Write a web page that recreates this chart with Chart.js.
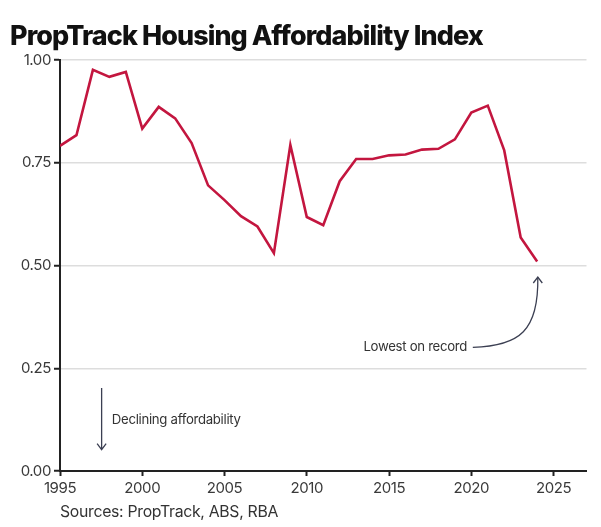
<!DOCTYPE html>
<html>
<head>
<meta charset="utf-8">
<script src="https://cdn.jsdelivr.net/npm/chart.js@4.4.1/dist/chart.umd.min.js"></script>
<style>
  html, body { margin: 0; padding: 0; background: #ffffff; }
  #wrap { width: 601px; height: 527px; position: relative; }
</style>
</head>
<body>
<div id="wrap"><canvas id="c"></canvas></div>
<script>
// ---- data ----
const chartTitle = 'PropTrack Housing Affordability Index';
const sourceNote = 'Sources: PropTrack, ABS, RBA';
const years = [1995, 1996, 1997, 1998, 1999, 2000, 2001, 2002, 2003, 2004,
               2005, 2006, 2007, 2008, 2009, 2010, 2011, 2012, 2013, 2014,
               2015, 2016, 2017, 2018, 2019, 2020, 2021, 2022, 2023, 2024];
const affordability = [0.791, 0.817, 0.976, 0.959, 0.971, 0.833, 0.886, 0.858, 0.798, 0.695,
                       0.659, 0.620, 0.595, 0.530, 0.793, 0.618, 0.598, 0.705, 0.759, 0.759,
                       0.768, 0.770, 0.782, 0.784, 0.807, 0.872, 0.889, 0.780, 0.568, 0.510];
const xTickYears = [1995, 2000, 2005, 2010, 2015, 2020, 2025];
const yTickValues = [0, 0.25, 0.5, 0.75, 1.0];
const lowestLabel = 'Lowest on record';
const decliningLabel = 'Declining affordability';

// annotation anchors in data units (year, index value)
const lowestText = { x: 2019.74, y: 0.302 };
const lowestCurve = [ { x: 2020.09, y: 0.301 }, { x: 2022.95, y: 0.304 }, { x: 2024.1, y: 0.342 }, { x: 2024.04, y: 0.472 } ];
const declineArrow = [ { x: 1997.53, y: 0.202 }, { x: 1997.53, y: 0.052 } ];
const declineText = { x: 1998.15, y: 0.124 };

const FONT = 'Inter, "Noto Sans", sans-serif';
const RED = '#c3163f';
const INK = '#3b3f52';

const decorPlugin = {
  id: 'decor',
  beforeDraw(chart) {
    chart.ctx.letterSpacing = '-0.4px';
  },
  afterDraw(chart) {
    const ctx = chart.ctx;
    const xs = chart.scales.x, ys = chart.scales.y;
    const px = p => [xs.getPixelForValue(p.x), ys.getPixelForValue(p.y)];
    ctx.save();
    // title
    ctx.letterSpacing = '-0.9px';
    ctx.fillStyle = '#111111';
    ctx.textBaseline = 'alphabetic';
    ctx.textAlign = 'left';
    ctx.font = '800 27px ' + FONT;
    let w = ctx.measureText(chartTitle).width;
    let size = 27 * 473 / w;
    ctx.font = '800 ' + size.toFixed(2) + 'px ' + FONT;
    ctx.fillText(chartTitle, 10, 45);
    // sources
    ctx.letterSpacing = '-0.3px';
    ctx.fillStyle = '#333333';
    ctx.font = '400 15.8px ' + FONT;
    ctx.textBaseline = 'middle';
    ctx.fillText(sourceNote, 60, 512);
    // lowest on record
    ctx.letterSpacing = '-0.3px';
    ctx.font = '400 13.2px ' + FONT;
    ctx.fillStyle = '#333333';
    ctx.textAlign = 'right';
    let [tx, ty] = px(lowestText);
    ctx.fillText(lowestLabel, tx, ty);
    const c = lowestCurve.map(px);
    ctx.strokeStyle = INK;
    ctx.lineWidth = 1.3;
    ctx.beginPath();
    ctx.moveTo(c[0][0], c[0][1]);
    ctx.bezierCurveTo(c[1][0], c[1][1], c[2][0], c[2][1], c[3][0], c[3][1]);
    ctx.stroke();
    // arrow head (open chevron)
    ctx.beginPath();
    ctx.moveTo(c[3][0] - 4.5, c[3][1] + 6);
    ctx.lineTo(c[3][0], c[3][1]);
    ctx.lineTo(c[3][0] + 4.5, c[3][1] + 6);
    ctx.stroke();
    // declining affordability
    const d0 = px(declineArrow[0]), d1 = px(declineArrow[1]);
    ctx.beginPath();
    ctx.moveTo(d0[0], d0[1]);
    ctx.lineTo(d1[0], d1[1]);
    ctx.moveTo(d1[0] - 4.5, d1[1] - 6);
    ctx.lineTo(d1[0], d1[1]);
    ctx.lineTo(d1[0] + 4.5, d1[1] - 6);
    ctx.stroke();
    ctx.textAlign = 'left';
    [tx, ty] = px(declineText);
    ctx.fillText(decliningLabel, tx, ty);
    ctx.restore();
  }
};

new Chart(document.getElementById('c'), {
  type: 'line',
  data: {
    datasets: [{
      label: 'Housing Affordability Index',
      data: years.map((y, i) => ({ x: y, y: affordability[i] })),
      borderColor: RED,
      borderWidth: 2.6,
      pointRadius: 0,
      tension: 0,
      fill: false
    }]
  },
  options: {
    responsive: true,
    maintainAspectRatio: false,
    animation: false,
    devicePixelRatio: 1,
    layout: { padding: { top: 60, right: 14.5, bottom: 0, left: 0 } },
    plugins: { legend: { display: false }, tooltip: { enabled: false } },
    scales: {
      x: {
        type: 'linear',
        min: 1995,
        max: 2027,
        afterBuildTicks: s => { s.ticks = xTickYears.map(v => ({ value: v })); },
        afterFit: s => { s.height = 56; },
        border: { color: '#222222', width: 2 },
        grid: { drawOnChartArea: false, drawTicks: true, tickLength: 5, tickColor: '#222222', tickWidth: 2 },
        ticks: {
          autoSkip: false,
          maxRotation: 0,
          padding: 3,
          color: '#3a3a3a',
          font: { family: FONT, size: 15 },
          callback: v => String(v)
        }
      },
      y: {
        min: 0,
        max: 1,
        afterBuildTicks: s => { s.ticks = yTickValues.map(v => ({ value: v })); },
        afterFit: s => { s.width = 60; },
        border: { color: '#222222', width: 2 },
        grid: { color: '#dddddd', lineWidth: 1.5, drawTicks: true, tickLength: 6, tickColor: '#222222', tickWidth: 2 },
        ticks: {
          padding: 3,
          color: '#3a3a3a',
          font: { family: FONT, size: 15 },
          callback: v => Number(v).toFixed(2)
        }
      }
    }
  },
  plugins: [decorPlugin]
});
</script>
</body>
</html>
